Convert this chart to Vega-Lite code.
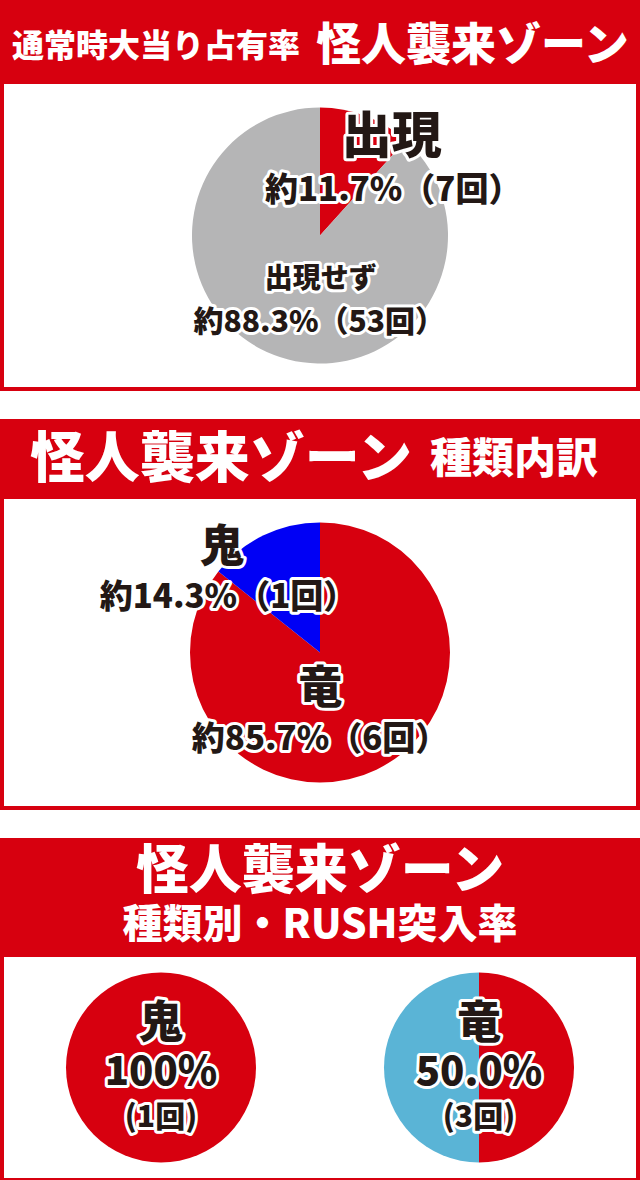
{
  "$schema": "https://vega.github.io/schema/vega-lite/v6.json",
  "padding": 0,
  "background": "white",
  "config": {"font": "Noto Sans CJK JP", "view": {"stroke": null}},
  "datasets": {
    "titles": [{"s1a": "通常時大当り占有率", "s1b": "怪人襲来ゾーン", "s2a": "怪人襲来ゾーン", "s2b": "種類内訳", "s3a": "怪人襲来ゾーン", "s3b": "種類別・RUSH突入率"}],
    "occupancy": [
      {"区分": "出現", "回数": 7, "割合": "約11.7%（7回）"},
      {"区分": "出現せず", "回数": 53, "割合": "約88.3%（53回）"}
    ],
    "breakdown": [
      {"種類": "竜", "回数": 6, "割合": "約85.7%（6回）"},
      {"種類": "鬼", "回数": 1, "割合": "約14.3%（1回）"}
    ],
    "rush": [
      {"種類": "鬼", "結果": "RUSH突入", "回数": 1, "率": "100%", "表示": "(1回)"},
      {"種類": "鬼", "結果": "非突入", "回数": 0, "率": "", "表示": ""},
      {"種類": "竜", "結果": "RUSH突入", "回数": 3, "率": "50.0%", "表示": "(3回)"},
      {"種類": "竜", "結果": "非突入", "回数": 3, "率": "", "表示": ""}
    ]
  },
  "resolve": {"scale": {"color": "independent", "theta": "independent", "x": "independent"}},
  "vconcat": [
    {
      "spacing": 0,
      "bounds": "flush",
      "center": true,
      "resolve": {"scale": {"color": "independent", "theta": "independent"}},
      "vconcat": [
        {
          "width": 640, "height": 82,
          "view": {"fill": "#d7000f", "stroke": null},
          "data": {"name": "titles"},
          "layer": [
            {"mark": {"type": "text", "align": "right", "baseline": "middle", "dx": -20, "dy": 6, "fontSize": 32, "fontWeight": 900, "fill": "white"},
             "encoding": {"text": {"field": "s1a", "type": "nominal"}}},
            {"mark": {"type": "text", "align": "left", "baseline": "middle", "dx": -4, "dy": 6, "fontSize": 45, "fontWeight": 900, "fill": "white"},
             "encoding": {"text": {"field": "s1b", "type": "nominal"}}}
          ]
        },
        {
          "width": 636, "height": 307,
          "view": {"fill": "white", "stroke": "#d7000f", "strokeWidth": 4},
          "data": {"name": "occupancy"},
          "encoding": {
            "theta": {"field": "回数", "type": "quantitative", "stack": true},
            "order": {"field": "区分", "type": "nominal", "sort": "ascending"}
          },
          "layer": [
            {"mark": {"type": "arc", "outerRadius": 128},
             "encoding": {"color": {"field": "区分", "type": "nominal", "scale": {"domain": ["出現", "出現せず"], "range": ["#d7000f", "#b5b5b6"]}, "legend": null}}},
            {
              "encoding": {
                "detail": {"field": "区分", "type": "nominal"},
                "text": {"condition": {"test": "datum['区分'] === '出現'", "field": "区分", "type": "nominal"}, "value": ""}
              },
              "layer": [
                {"mark": {"type": "text", "radius": 100, "dx": 36, "dy": -4, "baseline": "middle", "fontSize": 50, "fontWeight": 900, "fill": "#231815", "stroke": "white", "strokeWidth": 6, "strokeJoin": "round"}},
                {"mark": {"type": "text", "radius": 100, "dx": 36, "dy": -4, "baseline": "middle", "fontSize": 50, "fontWeight": 900, "fill": "#231815"}}
              ]
            },
            {
              "encoding": {
                "detail": {"field": "区分", "type": "nominal"},
                "text": {"condition": {"test": "datum['区分'] === '出現'", "field": "割合", "type": "nominal"}, "value": ""}
              },
              "layer": [
                {"mark": {"type": "text", "radius": 48, "dx": 56, "baseline": "middle", "fontSize": 33, "fontWeight": 900, "fill": "#231815", "stroke": "white", "strokeWidth": 6, "strokeJoin": "round"}},
                {"mark": {"type": "text", "radius": 48, "dx": 56, "baseline": "middle", "fontSize": 33, "fontWeight": 900, "fill": "#231815"}}
              ]
            },
            {
              "encoding": {
                "detail": {"field": "区分", "type": "nominal"},
                "text": {"condition": {"test": "datum['区分'] === '出現せず'", "field": "区分", "type": "nominal"}, "value": ""}
              },
              "layer": [
                {"mark": {"type": "text", "radius": 48, "dx": 18, "baseline": "middle", "fontSize": 28, "fontWeight": 900, "fill": "#231815", "stroke": "white", "strokeWidth": 6, "strokeJoin": "round"}},
                {"mark": {"type": "text", "radius": 48, "dx": 18, "baseline": "middle", "fontSize": 28, "fontWeight": 900, "fill": "#231815"}}
              ]
            },
            {
              "encoding": {
                "detail": {"field": "区分", "type": "nominal"},
                "text": {"condition": {"test": "datum['区分'] === '出現せず'", "field": "割合", "type": "nominal"}, "value": ""}
              },
              "layer": [
                {"mark": {"type": "text", "radius": 94, "dx": 33, "baseline": "middle", "fontSize": 30, "fontWeight": 900, "fill": "#231815", "stroke": "white", "strokeWidth": 6, "strokeJoin": "round"}},
                {"mark": {"type": "text", "radius": 94, "dx": 33, "baseline": "middle", "fontSize": 30, "fontWeight": 900, "fill": "#231815"}}
              ]
            }
          ]
        }
      ]
    },
    {
      "spacing": 0,
      "bounds": "flush",
      "center": true,
      "resolve": {"scale": {"color": "independent", "theta": "independent"}},
      "vconcat": [
        {
          "width": 640, "height": 78,
          "view": {"fill": "#d7000f", "stroke": null},
          "data": {"name": "titles"},
          "layer": [
            {"mark": {"type": "text", "align": "right", "baseline": "middle", "dx": 92, "dy": 2, "fontSize": 55, "fontWeight": 900, "fill": "white"},
             "encoding": {"text": {"field": "s2a", "type": "nominal"}}},
            {"mark": {"type": "text", "align": "left", "baseline": "middle", "dx": 110, "dy": 2, "fontSize": 42, "fontWeight": 900, "fill": "white"},
             "encoding": {"text": {"field": "s2b", "type": "nominal"}}}
          ]
        },
        {
          "width": 636, "height": 311,
          "view": {"fill": "white", "stroke": "#d7000f", "strokeWidth": 4},
          "data": {"name": "breakdown"},
          "encoding": {
            "theta": {"field": "回数", "type": "quantitative", "stack": true},
            "order": {"field": "種類", "type": "nominal", "sort": "ascending"}
          },
          "layer": [
            {"mark": {"type": "arc", "outerRadius": 130},
             "encoding": {"color": {"field": "種類", "type": "nominal", "scale": {"domain": ["竜", "鬼"], "range": ["#d7000f", "#0000f5"]}, "legend": null}}},
            {
              "encoding": {
                "detail": {"field": "種類", "type": "nominal"},
                "text": {"condition": {"test": "datum['種類'] === '鬼'", "field": "種類", "type": "nominal"}, "value": ""}
              },
              "layer": [
                {"mark": {"type": "text", "radius": 115, "dx": -48, "baseline": "middle", "fontSize": 44, "fontWeight": 900, "fill": "#231815", "stroke": "white", "strokeWidth": 6, "strokeJoin": "round"}},
                {"mark": {"type": "text", "radius": 115, "dx": -48, "baseline": "middle", "fontSize": 44, "fontWeight": 900, "fill": "#231815"}}
              ]
            },
            {
              "encoding": {
                "detail": {"field": "種類", "type": "nominal"},
                "text": {"condition": {"test": "datum['種類'] === '鬼'", "field": "割合", "type": "nominal"}, "value": ""}
              },
              "layer": [
                {"mark": {"type": "text", "radius": 60, "dx": -66, "baseline": "middle", "fontSize": 33, "fontWeight": 900, "fill": "#231815", "stroke": "white", "strokeWidth": 6, "strokeJoin": "round"}},
                {"mark": {"type": "text", "radius": 60, "dx": -66, "baseline": "middle", "fontSize": 33, "fontWeight": 900, "fill": "#231815"}}
              ]
            },
            {
              "encoding": {
                "detail": {"field": "種類", "type": "nominal"},
                "text": {"condition": {"test": "datum['種類'] === '竜'", "field": "種類", "type": "nominal"}, "value": ""}
              },
              "layer": [
                {"mark": {"type": "text", "radius": 42, "dx": -18, "baseline": "middle", "fontSize": 44, "fontWeight": 900, "fill": "#231815", "stroke": "white", "strokeWidth": 6, "strokeJoin": "round"}},
                {"mark": {"type": "text", "radius": 42, "dx": -18, "baseline": "middle", "fontSize": 44, "fontWeight": 900, "fill": "#231815"}}
              ]
            },
            {
              "encoding": {
                "detail": {"field": "種類", "type": "nominal"},
                "text": {"condition": {"test": "datum['種類'] === '竜'", "field": "割合", "type": "nominal"}, "value": ""}
              },
              "layer": [
                {"mark": {"type": "text", "radius": 97, "dx": -42, "baseline": "middle", "fontSize": 33, "fontWeight": 900, "fill": "#231815", "stroke": "white", "strokeWidth": 6, "strokeJoin": "round"}},
                {"mark": {"type": "text", "radius": 97, "dx": -42, "baseline": "middle", "fontSize": 33, "fontWeight": 900, "fill": "#231815"}}
              ]
            }
          ]
        }
      ]
    },
    {
      "spacing": 0,
      "bounds": "flush",
      "center": true,
      "resolve": {"scale": {"color": "independent", "theta": "independent", "x": "independent"}},
      "vconcat": [
        {
          "width": 640, "height": 117,
          "view": {"fill": "#d7000f", "stroke": null},
          "data": {"name": "titles"},
          "layer": [
            {"mark": {"type": "text", "align": "center", "baseline": "middle", "dy": -24, "fontSize": 53, "fontWeight": 900, "fill": "white"},
             "encoding": {"text": {"field": "s3a", "type": "nominal"}}},
            {"mark": {"type": "text", "align": "center", "baseline": "middle", "dy": 29, "fontSize": 40, "fontWeight": 900, "fill": "white"},
             "encoding": {"text": {"field": "s3b", "type": "nominal"}}}
          ]
        },
        {
          "width": 636, "height": 225,
          "view": {"fill": "white", "stroke": "#d7000f", "strokeWidth": 4},
          "data": {"name": "rush"},
          "encoding": {
            "x": {"field": "種類", "type": "nominal", "axis": null, "scale": {"type": "point", "domain": ["鬼", "竜"], "padding": 0.5}}
          },
          "layer": [
            {"transform": [{"filter": "datum['種類'] === '鬼'"}],
             "mark": {"type": "arc", "outerRadius": 95},
             "encoding": {
               "theta": {"field": "回数", "type": "quantitative", "stack": "normalize"},
               "order": {"field": "結果", "type": "nominal", "sort": "ascending"},
               "color": {"field": "結果", "type": "nominal", "scale": {"domain": ["RUSH突入", "非突入"], "range": ["#d7000f", "#5ab4d6"]}, "legend": null}
             }},
            {"transform": [{"filter": "datum['種類'] === '竜'"}],
             "mark": {"type": "arc", "outerRadius": 95},
             "encoding": {
               "theta": {"field": "回数", "type": "quantitative", "stack": "normalize"},
               "order": {"field": "結果", "type": "nominal", "sort": "ascending"},
               "color": {"field": "結果", "type": "nominal", "scale": {"domain": ["RUSH突入", "非突入"], "range": ["#d7000f", "#5ab4d6"]}, "legend": null}
             }},
            {
              "transform": [{"filter": "datum['結果'] === 'RUSH突入'"}],
              "layer": [
                {"mark": {"type": "text", "baseline": "middle", "dy": -43, "fontSize": 44, "fontWeight": 900, "fill": "#231815", "stroke": "white", "strokeWidth": 6, "strokeJoin": "round"},
                 "encoding": {"text": {"field": "種類", "type": "nominal"}}},
                {"mark": {"type": "text", "baseline": "middle", "dy": -43, "fontSize": 44, "fontWeight": 900, "fill": "#231815"},
                 "encoding": {"text": {"field": "種類", "type": "nominal"}}},
                {"mark": {"type": "text", "baseline": "middle", "dy": 5, "fontSize": 40, "fontWeight": 900, "fill": "#231815", "stroke": "white", "strokeWidth": 6, "strokeJoin": "round"},
                 "encoding": {"text": {"field": "率", "type": "nominal"}}},
                {"mark": {"type": "text", "baseline": "middle", "dy": 5, "fontSize": 40, "fontWeight": 900, "fill": "#231815"},
                 "encoding": {"text": {"field": "率", "type": "nominal"}}},
                {"mark": {"type": "text", "baseline": "middle", "dy": 50, "fontSize": 30, "fontWeight": 900, "fill": "#231815", "stroke": "white", "strokeWidth": 6, "strokeJoin": "round"},
                 "encoding": {"text": {"field": "表示", "type": "nominal"}}},
                {"mark": {"type": "text", "baseline": "middle", "dy": 50, "fontSize": 30, "fontWeight": 900, "fill": "#231815"},
                 "encoding": {"text": {"field": "表示", "type": "nominal"}}}
              ]
            }
          ]
        }
      ]
    }
  ],
  "spacing": 28
}
